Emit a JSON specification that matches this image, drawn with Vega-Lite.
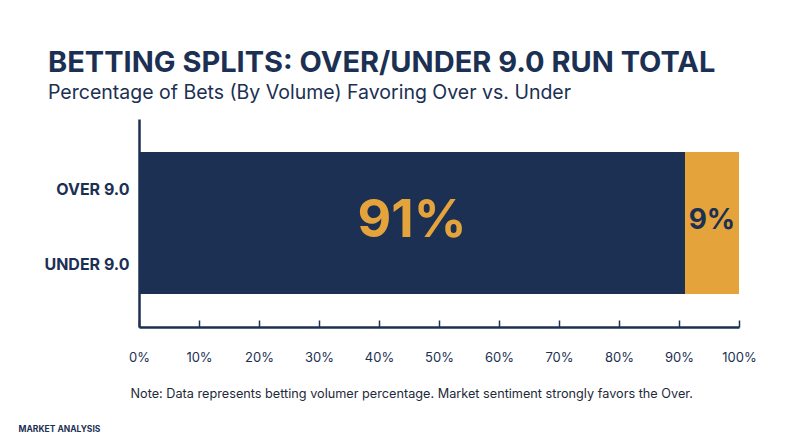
{
  "$schema": "https://vega.github.io/schema/vega-lite/v6.json",
  "width": 600,
  "height": 208,
  "autosize": {"type": "none"},
  "padding": {"left": 139, "top": 119, "right": 61, "bottom": 120},
  "background": "white",
  "config": {"view": {"stroke": null}, "font": "Inter"},
  "title": {
    "text": "BETTING SPLITS: OVER/UNDER 9.0 RUN TOTAL",
    "subtitle": "Percentage of Bets (By Volume) Favoring Over vs. Under",
    "anchor": "start",
    "frame": "group",
    "dx": -91,
    "font": "Inter",
    "fontSize": 29,
    "fontWeight": "bold",
    "color": "#1b3052",
    "subtitleFont": "Inter",
    "subtitleFontSize": 19.5,
    "subtitleColor": "#1b3052",
    "subtitlePadding": 6,
    "offset": 17
  },
  "data": {
    "values": [
      {"side": "Over", "label": "OVER 9.0", "pct": 91, "display": "91%"},
      {"side": "Under", "label": "UNDER 9.0", "pct": 9, "display": "9%"}
    ]
  },
  "transform": [
    {"stack": "pct", "groupby": [], "sort": [{"field": "side", "order": "ascending"}], "as": ["x0", "x1"]}
  ],
  "layer": [
    {
      "mark": {"type": "bar", "height": 142},
      "encoding": {
        "x": {
          "field": "x0",
          "type": "quantitative",
          "scale": {"domain": [0, 100], "nice": false},
          "axis": {
            "values": [0, 10, 20, 30, 40, 50, 60, 70, 80, 90, 100],
            "labelExpr": "datum.value + '%'",
            "grid": false,
            "domainColor": "#1b3052",
            "domainWidth": 2.5,
            "tickColor": "#1b3052",
            "tickWidth": 1.5,
            "tickSize": -7,
            "labelPadding": 31,
            "labelFontSize": 13,
            "labelColor": "#1b3052",
            "labelFlush": false,
            "title": "Note: Data represents betting volumer percentage. Market sentiment strongly favors the Over.",
            "titleAnchor": "start",
            "titleAlign": "left",
            "titleX": -9,
            "titleY": 66,
            "titleBaseline": "middle",
            "titleFontSize": 12.7,
            "titleFontWeight": "normal",
            "titleColor": "#1e2a3a"
          }
        },
        "x2": {"field": "x1"},
        "fill": {
          "field": "side",
          "type": "nominal",
          "scale": {"domain": ["Over", "Under"], "range": ["#1b3052", "#e5a33b"]},
          "legend": null
        }
      }
    },
    {
      "mark": {
        "type": "text",
        "fontWeight": "bold",
        "baseline": "middle",
        "align": "center",
        "dy": -2,
        "dx": {"expr": "(scale('x', datum.x1) - scale('x', datum.x0)) / 2"}
      },
      "encoding": {
        "x": {"field": "x0", "type": "quantitative"},
        "text": {"field": "display", "type": "nominal"},
        "color": {"condition": {"test": "datum.side === 'Over'", "value": "#e5a33b"}, "value": "#1b3052"},
        "size": {"condition": {"test": "datum.side === 'Over'", "value": 52}, "value": 28}
      }
    },
    {
      "mark": {"type": "point", "opacity": 0},
      "encoding": {
        "y": {
          "field": "label",
          "type": "nominal",
          "scale": {"type": "point", "domain": ["OVER 9.0", "UNDER 9.0"], "padding": 0.8867, "align": 0.5338},
          "axis": {
            "domainColor": "#1b3052",
            "domainWidth": 2.5,
            "ticks": false,
            "grid": false,
            "labelPadding": 10,
            "labelFontSize": 16,
            "labelFontWeight": "bold",
            "labelColor": "#1b3052",
            "title": "MARKET ANALYSIS",
            "titleAngle": 0,
            "titleX": -80,
            "titleY": 309,
            "titleAlign": "center",
            "titleBaseline": "middle",
            "titleFontSize": 8.5,
            "titleFontWeight": "bold",
            "titleColor": "#1b3052"
          }
        }
      }
    }
  ]
}
